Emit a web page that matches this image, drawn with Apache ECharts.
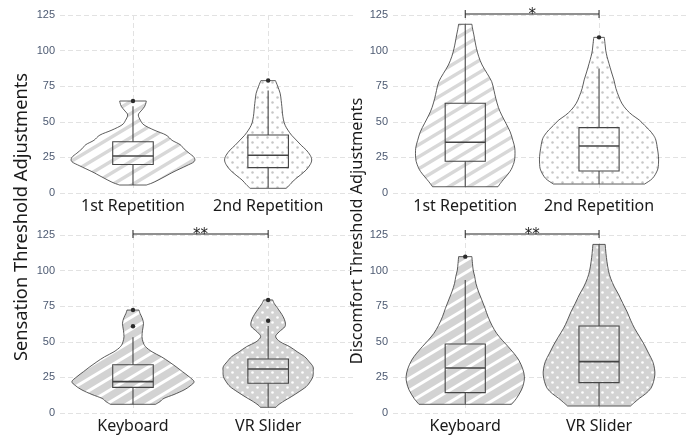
<!DOCTYPE html>
<html><head><meta charset="utf-8">
<script src="https://cdn.jsdelivr.net/npm/echarts@6.0.0/dist/echarts.min.js"></script>
<style>html,body{margin:0;padding:0;background:#fff}#c{width:686px;height:437px}</style>
</head><body><div id="c"></div>
<script>
// ---- categories & ticks ----
const repetitionCategories = ['1st Repetition', '2nd Repetition'];
const methodCategories = ['Keyboard', 'VR Slider'];
const yTickValues = [0, 25, 50, 75, 100, 125];

// ---- violin outlines: y values and half-widths (half-widths in 1/135 of a category step) ----
const sensRep1Y = [5.6, 7, 9, 12, 15, 19, 22, 25, 28, 31, 34, 37, 40.7, 44.2, 47.8, 51, 54.8, 57.6, 60.6, 63.5, 64.6];
const sensRep1W = [13.3, 19, 25, 33, 41, 53, 61, 61, 56, 51, 47, 39, 33, 21, 11, 7.5, 5.3, 8, 11.5, 13, 13.3];
const sensRep2Y = [3.3, 6, 9.1, 12.5, 16.2, 20, 23.2, 26.5, 30.2, 33.5, 37.2, 40.5, 44.2, 47.5, 51.3, 56, 60.6, 65, 70, 75, 78.9];
const sensRep2W = [18, 22, 26, 32, 38, 42, 43.5, 42, 38, 33, 28, 23.5, 19.7, 17, 15.3, 14.3, 13.7, 13, 12, 9.5, 7.3];
const discRep1Y = [4.4, 7.9, 15, 20, 24.4, 31.4, 37, 43, 49, 54.8, 60, 66.5, 72, 78.2, 84, 89.9, 96, 101.6, 106, 111, 115, 118.5];
const discRep1W = [33, 36.7, 45, 48.5, 50, 50, 48, 45.3, 41, 36.7, 33.5, 30.8, 29, 26.7, 22, 17, 13.5, 11.3, 10, 8.7, 7.5, 6.7];
const discRep2Y = [6.3, 10.3, 16.2, 21, 25.5, 31, 37.2, 40.5, 44.2, 47.5, 51.3, 54.5, 58.3, 63, 67.6, 73.5, 79.4, 85, 91, 96, 100.4, 105, 109.3];
const discRep2W = [46, 54, 59, 60, 60, 59, 57.3, 55, 50.8, 46, 40.5, 34, 28, 23, 20, 17, 15, 12.5, 10, 8, 6.7, 6, 5.3];
const sensMeth1Y = [6.1, 8, 10.3, 13, 16.2, 19, 22, 25.5, 29, 32.5, 36, 39.5, 43, 46.6, 50, 53.6, 58, 63, 67, 70, 72.3];
const sensMeth1W = [22.5, 27, 31, 41, 51, 57, 61, 56, 49.5, 43, 36, 28.3, 19, 12.5, 10, 9, 9.5, 10.5, 9, 7, 6];
const sensMeth2Y = [4, 5.6, 8.5, 11.4, 15, 18.5, 22, 25.5, 29, 32.5, 36, 39.5, 43, 46.6, 50, 53.6, 57, 60.6, 64, 67.6, 71, 74.7, 77, 79.4];
const sensMeth2W = [7.8, 10, 16, 23, 31, 38, 42, 44.7, 45, 44.8, 41, 36.5, 29, 21.5, 12, 7.5, 11, 16.7, 17, 15, 12, 8.3, 6, 4.5];
const discMeth1Y = [6.1, 10.3, 16.2, 21, 25.5, 31, 37.2, 42, 46.6, 51, 55.9, 61.5, 67.6, 73.5, 79.4, 85, 91, 96, 100.4, 105, 109.8];
const discMeth1W = [46.7, 51.7, 56.7, 59, 59.7, 58, 54, 49, 43.3, 37.5, 31.7, 27, 23, 20, 16.7, 13.5, 10.8, 9.5, 8, 7.3, 6.7];
const discMeth2Y = [4.9, 7.5, 10.3, 13.5, 17.3, 22, 26.7, 31, 36.1, 42, 47.8, 53.5, 59.5, 65, 71.1, 77, 82.9, 88.5, 94.6, 100, 106.3, 112, 118.4];
const discMeth2W = [31.7, 36, 40.7, 47, 52.3, 55, 56.3, 56, 54.2, 50, 45.8, 41, 35.8, 32, 28.3, 24, 20, 15.5, 11.7, 9.5, 8, 7, 6.2];

// ---- boxplots: [lower whisker, Q1, median, Q3, upper whisker] ----
const sensRepBoxes = [[5.6, 20, 26, 36, 61], [3.7, 17.8, 26.5, 40.7, 71.9]];
const sensRepOutliers = [[64.6], [79]];
const discRepBoxes = [[4.4, 22.3, 35.6, 63, 118.5], [6.3, 15.4, 33, 45.9, 87.5]];
const discRepOutliers = [[], [109.3]];
const sensMethBoxes = [[6.1, 18, 22, 33.9, 53.2], [4, 20.9, 30.9, 37.9, 61.1]];
const sensMethOutliers = [[60.9, 72.3], [64.8, 79.4]];
const discMethBoxes = [[6.1, 14.3, 31.6, 48.5, 93.4], [4.9, 21.3, 36.1, 61.1, 118.4]];
const discMethOutliers = [[109.8], []];

// ---- significance brackets: [from category, to category, y value, label] ----
const discRepSig = [1, 2, 125.7, '*'];
const sensMethSig = [1, 2, 125.7, '**'];
const discMethSig = [1, 2, 125.7, '**'];

const WIDTH_UNIT = 135;   // half-width units per category step
const BOX_WIDTH = 0.3;    // in category steps

function stripes(bg, fg, lw) {
  const c = document.createElement('canvas'); c.width = 20; c.height = 12;
  const g = c.getContext('2d');
  g.fillStyle = bg; g.fillRect(0, 0, 20, 12);
  g.strokeStyle = fg; g.lineWidth = lw;
  for (let k = -1; k <= 2; k++) {
    g.beginPath();
    g.moveTo(-10, 12 * k + 6); g.lineTo(30, 12 * k - 18);
    g.stroke();
  }
  return { type: 'pattern', image: c, repeat: 'repeat' };
}
function dots(bg, fg, r) {
  const c = document.createElement('canvas'); c.width = 10; c.height = 10;
  const g = c.getContext('2d');
  g.fillStyle = bg; g.fillRect(0, 0, 10, 10);
  g.fillStyle = fg;
  [[2.5, 2.5], [7.5, 7.5]].forEach(p => { g.beginPath(); g.arc(p[0], p[1], r, 0, Math.PI * 2); g.fill(); });
  return { type: 'pattern', image: c, repeat: 'repeat' };
}
const topFills = [stripes('#ffffff', '#d8d8d8', 3.5), dots('#ffffff', '#c6c6c6', 1.25)];
const botFills = [stripes('#d3d3d3', '#ffffff', 3), dots('#d3d3d3', '#ffffff', 1.3)];

function smoothPath(pts) {
  let d = '';
  const n = pts.length;
  for (let i = 0; i < n - 1; i++) {
    const p0 = pts[Math.max(i - 1, 0)], p1 = pts[i], p2 = pts[i + 1], p3 = pts[Math.min(i + 2, n - 1)];
    const c1 = [p1[0] + (p2[0] - p0[0]) / 6, p1[1] + (p2[1] - p0[1]) / 6];
    const c2 = [p2[0] - (p3[0] - p1[0]) / 6, p2[1] - (p3[1] - p1[1]) / 6];
    d += ' C' + c1[0] + ',' + c1[1] + ' ' + c2[0] + ',' + c2[1] + ' ' + p2[0] + ',' + p2[1];
  }
  return d;
}

function violinSeries(idx, violins, boxes, outliers, fills) {
  return {
    type: 'custom', xAxisIndex: idx, yAxisIndex: idx, silent: true,
    data: [[1, 0], [2, 0]],
    renderItem(params, api) {
      const i = params.dataIndex;
      const x = api.value(0);
      const unit = api.size([1, 0])[0];
      const cx = api.coord([x, 0])[0];
      const v = violins[i];
      const left = [], right = [];
      for (let k = 0; k < v[0].length; k++) {
        const py = api.coord([x, v[0][k]])[1];
        const hw = v[1][k] / WIDTH_UNIT * unit;
        left.push([cx - hw, py]); right.push([cx + hw, py]);
      }
      right.reverse();
      let d = 'M' + left[0][0] + ',' + left[0][1] + smoothPath(left) +
        ' L' + right[0][0] + ',' + right[0][1] + smoothPath(right) + ' Z';
      const b = boxes[i].map(val => api.coord([x, val])[1]);
      const bw = BOX_WIDTH * unit / 2;
      const ln = '#444';
      const children = [
        { type: 'path', shape: { pathData: d }, style: { fill: fills[i], stroke: '#333', lineWidth: 0.8 } },
        { type: 'line', shape: { x1: cx, y1: b[0], x2: cx, y2: b[1] }, style: { stroke: ln, lineWidth: 1.1 } },
        { type: 'line', shape: { x1: cx, y1: b[3], x2: cx, y2: b[4] }, style: { stroke: ln, lineWidth: 1.1 } },
        { type: 'rect', shape: { x: cx - bw, y: b[3], width: 2 * bw, height: b[1] - b[3] }, style: { fill: 'none', stroke: ln, lineWidth: 1.1 } },
        { type: 'line', shape: { x1: cx - bw, y1: b[2], x2: cx + bw, y2: b[2] }, style: { stroke: ln, lineWidth: 1.6 } }
      ];
      outliers[i].forEach(o => {
        const p = api.coord([x, o]);
        children.push({ type: 'circle', shape: { cx: p[0], cy: p[1], r: 2.2 }, style: { fill: '#2b2b2b' } });
      });
      return { type: 'group', children };
    }
  };
}

function sigSeries(idx, sig) {
  return {
    type: 'custom', xAxisIndex: idx, yAxisIndex: idx, silent: true,
    data: [sig.slice(0, 3)],
    renderItem(params, api) {
      const p1 = api.coord([api.value(0), api.value(2)]);
      const p2 = api.coord([api.value(1), api.value(2)]);
      const s = { stroke: '#222', lineWidth: 1 };
      return { type: 'group', children: [
        { type: 'line', shape: { x1: p1[0], y1: p1[1], x2: p2[0], y2: p2[1] }, style: s },
        { type: 'line', shape: { x1: p1[0], y1: p1[1] - 4, x2: p1[0], y2: p1[1] + 4 }, style: s },
        { type: 'line', shape: { x1: p2[0], y1: p2[1] - 4, x2: p2[0], y2: p2[1] + 4 }, style: s },
        { type: 'text', style: { text: sig[3], x: (p1[0] + p2[0]) / 2, y: p1[1] + 1, align: 'center', verticalAlign: 'middle', fontSize: 15, fill: '#222', fontFamily: 'DejaVu Sans' } }
      ] };
    }
  };
}

const grids = [
  { left: 60, top: 15, width: 296, height: 178 },
  { left: 393, top: 15, width: 293, height: 178 },
  { left: 60, top: 235, width: 296, height: 178 },
  { left: 393, top: 235, width: 293, height: 178 }
];
const gridLine = { show: true, lineStyle: { color: '#e2e2e2', width: 1, type: [5, 3] } };
const catsPerGrid = [repetitionCategories, repetitionCategories, methodCategories, methodCategories];

const option = {
  animation: false,
  backgroundColor: '#fff',
  grid: grids,
  xAxis: grids.map((g, i) => ({
    type: 'value', gridIndex: i, min: 0.46, max: 2.65,
    axisLine: { show: false },
    axisTick: { show: false, customValues: [1, 2] },
    axisLabel: { customValues: [1, 2], formatter: val => catsPerGrid[i][Math.round(val) - 1], fontSize: 16, color: '#1a1a1a', margin: 5, fontFamily: 'Noto Sans' },
    splitLine: gridLine
  })),
  yAxis: grids.map((g, i) => ({
    type: 'value', gridIndex: i, min: yTickValues[0], max: yTickValues[yTickValues.length - 1], interval: 25,
    axisLine: { show: false }, axisTick: { show: false },
    axisLabel: { fontSize: 11, color: '#4d5a72', margin: 5, fontFamily: 'Liberation Sans' },
    splitLine: gridLine
  })),
  series: [
    violinSeries(0, [[sensRep1Y, sensRep1W], [sensRep2Y, sensRep2W]], sensRepBoxes, sensRepOutliers, topFills),
    violinSeries(1, [[discRep1Y, discRep1W], [discRep2Y, discRep2W]], discRepBoxes, discRepOutliers, topFills),
    violinSeries(2, [[sensMeth1Y, sensMeth1W], [sensMeth2Y, sensMeth2W]], sensMethBoxes, sensMethOutliers, botFills),
    violinSeries(3, [[discMeth1Y, discMeth1W], [discMeth2Y, discMeth2W]], discMethBoxes, discMethOutliers, botFills),
    sigSeries(1, discRepSig),
    sigSeries(2, sensMethSig),
    sigSeries(3, discMethSig)
  ],
  graphic: [
    { type: 'text', x: 22, y: 217, rotation: Math.PI / 2, style: { text: 'Sensation Threshold Adjustments', fontSize: 18.3, fill: '#1a1a1a', fontFamily: 'Noto Sans', align: 'center', verticalAlign: 'middle' } },
    { type: 'text', x: 357, y: 231, rotation: Math.PI / 2, style: { text: 'Discomfort Threshold Adjustments', fontSize: 16.3, fill: '#1a1a1a', fontFamily: 'Noto Sans', align: 'center', verticalAlign: 'middle' } }
  ]
};
const chart = echarts.init(document.getElementById('c'), null, { renderer: 'canvas' });
chart.setOption(option);
</script></body></html>
